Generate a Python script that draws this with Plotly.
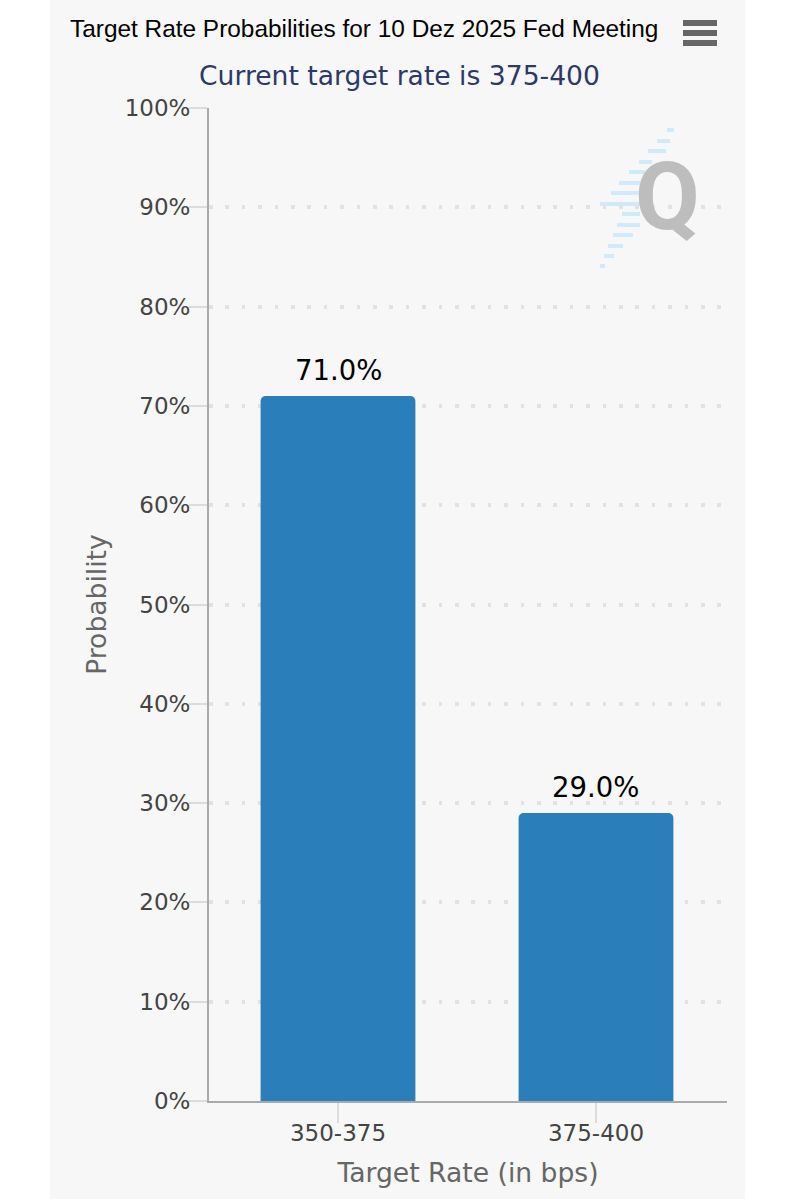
import plotly.graph_objects as go

W=797
H=1199
#plot area in page pixels
L,R,T,B=209,727,108,1101

categories=["350-375","375-400"]
probabilities=[71.0,29.0]
prob_labels=["71.0%","29.0%"]
y_ticks=[0,10,20,30,40,50,60,70,80,90,100]
y_tick_labels=["0%","10%","20%","30%","40%","50%","60%","70%","80%","90%","100%"]

#page pixels to paper coordinates, for the panel, logo and menu icon
def px(x):
    return (x-L)/(R-L)
def py(y):
    return (B-y)/(B-T)

def rect(x0,y0,x1,y1,color,layer="below"):
    return dict(type="rect",xref="paper",yref="paper",x0=px(x0),x1=px(x1),y0=py(y0),y1=py(y1),
                fillcolor=color,line_width=0,layer=layer)

shapes=[rect(50,0,745,H,"#f7f7f7")]

#stripes of the logo: y, x start, x end
logo_stripes=[(130,667,674),(141,657,670),(151,648,666),(162,639,652),(172,629,645),(183,619,640),(193,611,640),
              (204,600,640),(214,622,640),(225,617,640),(235,613,633),(246,608,623),(256,604,614),(266,600,605)]
for y,x0,x1 in logo_stripes:
    shapes.append(rect(x0,y-2,x1,y+2,"#cfeafa"))

#menu icon
for y in [23,33,43]:
    shapes.append(rect(683,y-3,717,y+3,"#666666",layer="above"))

annotations=[
    dict(text="Target Rate Probabilities for 10 Dez 2025 Fed Meeting",xref="paper",yref="paper",x=px(363.5),y=py(29),
         xanchor="center",yanchor="middle",showarrow=False,font=dict(family="Liberation Sans",size=24.4,color="#000000")),
    dict(text="Current target rate is 375-400",xref="paper",yref="paper",x=px(399),y=py(76),
         xanchor="center",yanchor="middle",showarrow=False,font=dict(family="DejaVu Sans",size=26.6,color="#2b3a67")),
    dict(text="Q",xref="paper",yref="paper",x=px(667),y=py(197),xanchor="center",yanchor="middle",showarrow=False,
         font=dict(family="Roboto",size=94,color="#bdbdbd",weight="bold")),
]
#value labels sit a little higher over the bars than textposition outside puts them
for cat,val,lab in zip(categories,probabilities,prob_labels):
    annotations.append(dict(text=lab,x=cat,y=val,yanchor="bottom",yshift=8,showarrow=False,
                            font=dict(family="DejaVu Sans",size=27.5,color="#000000")))

fig=go.Figure()
fig.add_trace(go.Bar(x=categories,y=probabilities,marker=dict(color="#2a7fba",line_width=0),hoverinfo="x+y"))

fig.update_layout(
    width=W,height=H,
    margin=dict(l=L,r=W-R,t=T,b=H-B),
    paper_bgcolor="#ffffff",plot_bgcolor="rgba(0,0,0,0)",
    bargap=0.4,barcornerradius=5,showlegend=False,
    font=dict(family="DejaVu Sans"),
    shapes=shapes,
    annotations=annotations,
)
fig.update_xaxes(
    title=dict(text="Target Rate (in bps)",font=dict(size=26.6,color="#666666"),standoff=19),
    range=[-0.5,1.5078],
    tickfont=dict(size=23,color="#444444"),
    ticks="outside",ticklen=20,tickwidth=1.5,tickcolor="#dcdcdc",ticklabelstandoff=-10,
    showline=True,linecolor="#aaaaaa",linewidth=2,showgrid=False,
)
fig.update_yaxes(
    title=dict(text="Probability",font=dict(size=26.6,color="#666666"),standoff=10),
    range=[0,100],tickmode="array",tickvals=y_ticks,ticktext=y_tick_labels,
    tickfont=dict(size=23,color="#444444"),
    ticks="outside",ticklen=18,tickwidth=1.5,tickcolor="#dcdcdc",ticklabelstandoff=-6,
    showline=True,linecolor="#aaaaaa",linewidth=2,
    showgrid=True,gridcolor="#e2e2e2",gridwidth=3.5,griddash="3.5px,12.9px",zeroline=False,
)

fig.write_html("out.html",config={"displayModeBar":False},post_script="document.body.style.margin='0';")
